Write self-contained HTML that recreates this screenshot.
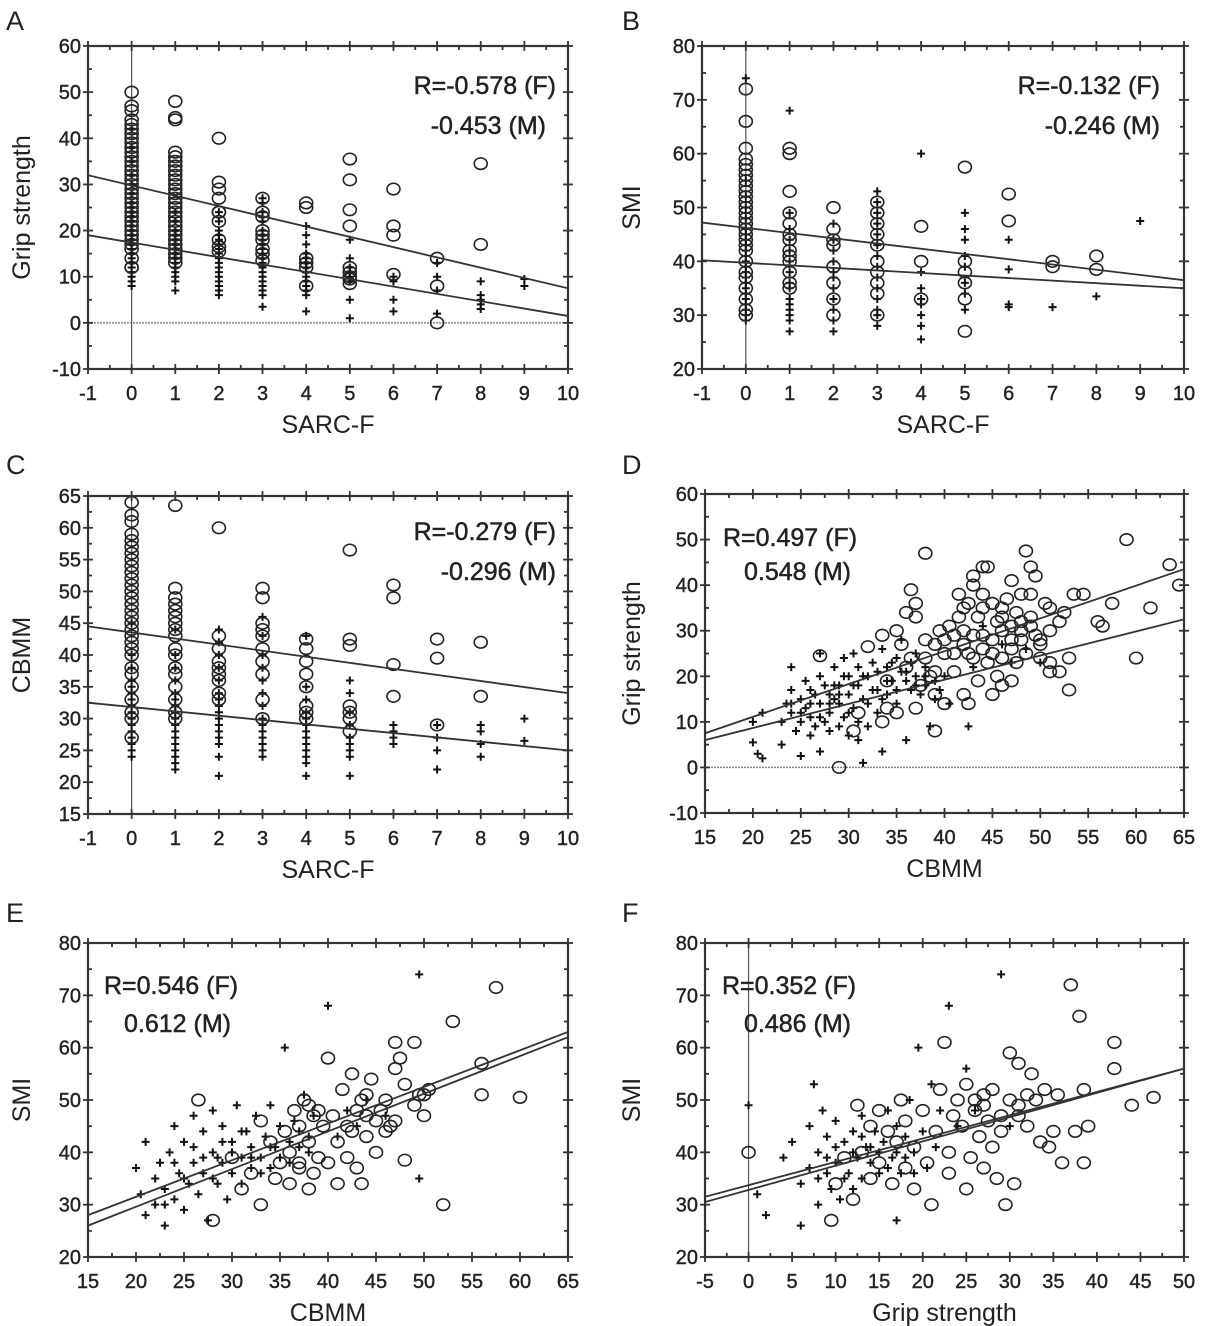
<!DOCTYPE html>
<html><head><meta charset="utf-8"><style>
html,body{margin:0;padding:0;background:#fff}
svg{display:block;font-family:"Liberation Sans",sans-serif}
</style></head><body>
<svg id="fig" width="1205" height="1326" viewBox="0 0 1205 1326" xmlns="http://www.w3.org/2000/svg"></svg>
<script>
// ---------- DATA ----------
const aMaleCols=[[0,[12,12,14,16,17,18,19,20,21,22,23,24,25,26,27,28,29,30,31,32,33,34,35,36,37,38,39,40,41,42,43,44,46,47,50]],[1,[13,14,15,16,17,18,19,20,21,22,23,24,25,26,27,28,29,30,31,32,33,34,35,36,37,44,44.5,48]],[2,[15.5,16.5,18,22,24,24,27,29,30.5,40]],[3,[13.5,15,16,18,19,20,23,24,27]],[4,[8,12,13,14,25,26]],[5,[8.5,9.5,10,11,12,21,24.5,31,35.5]],[6,[10.5,19,21,29]],[7,[0,8,14]],[8,[17,34.5]]];
const aFemCols=[[0,[8,9,10,11,12,13,14,15,16,17,18,19,20,21,22,23,24,25,26,28,30,32,35,38,42]],[1,[7,9,10,11,12,13,14,15,16,17,18,19,20,22,24]],[2,[6,7,8,9,10,11,12,13,14,15,16,17,18,19,20,22,24]],[3,[3.5,6,7,8,9,10,11,12,13,14,15,16,17,18,19,20,22,24,26,27]],[4,[2.5,6,7,8,9,10,11,12,13,14,15,17,19,21]],[5,[1,5,9,10,11,12,14,18]],[6,[2.5,5,9,10]],[7,[2,7,10,13]],[8,[3,4,5,6,9]],[9,[8,9.5]]];
const bMaleCols=[[0,[30,31,33,35,37,38,40,42,43,44,45,46,47,48,49,50,51,52,53,54,55,56,57,58,59,61,66,72]],[1,[35,36,38,40,41,42,44,45,47,49,53,60,61]],[2,[30,33,36,39,43,44,46,50]],[3,[30,34,36,38,40,43,45,47,49,51]],[4,[33,40,46.5]],[5,[27,33,36,38,40,57.5]],[6,[47.5,52.5]],[7,[39,40]],[8,[38.5,41]]];
const bFemCols=[[0,[29,30,31,32,33,34,35,36,37,38,39,40,41,42,43,44,45,46,48,50,52,55,74]],[1,[27,29,30,31,32,33,35,36,38,40,42,44,46,49,68]],[2,[27,29,31,33,35,37,38,40,42,44,47]],[3,[28,30,31,33,35,37,39,41,43,45,47,49,51,53]],[4,[25.5,28,30,32,33,35,38,60]],[5,[31,34,36,39,41,44,46,49]],[6,[31.5,32,38.5,44]],[7,[31.5]],[8,[33.5]],[9,[47.5]]];
const cMaleCols=[[0,[27,30,31,33,35,37,38,40,41,42,43,44,45,46,47,48,49,50,51,52,53,54,55,56,57,58,59,61,62,64]],[1,[30,31,33,35,37,38,40,41,43,44,45,46,47,48,49,50.5,63.5]],[2,[33,34,36,37,38,39,41,43,60]],[3,[30,33,37,39,41,43,44,45,49,50.5]],[4,[30,31,32,35,37,39,41,42.5]],[5,[28,30,31,32,41.5,42.5,56.5]],[6,[33.5,38.5,49,51]],[7,[29,39.5,42.5]],[8,[33.5,42]]];
const cFemCols=[[0,[24,25,26,27,28,29,30,31,32,33,34,35,36,38,40,45]],[1,[22,23,24,25,26,27,28,29,30,31,32,33,34,36,38,40,44]],[2,[21,24,26,27,28,29,30,31,32,33,34,36,38,40,42,44]],[3,[24,25,26,27,28,29,30,32,34,36,38,40,43,46]],[4,[21,23,24,25,26,27,28,29,30,31,33,35,43]],[5,[21,24,25,26,27,29,31,34,36]],[6,[26,27,28,29]],[7,[22,25,27,29]],[8,[24,26,28,29]],[9,[26.5,30]]];
const dMale=[[27,24.5],[29,0],[30.5,8],[31,12],[32,26.5],[33.5,29],[33.5,10],[34,13],[34,19],[35,30],[35,12],[35.5,27],[36,34],[36.5,39],[36.5,24],[37,36],[37,33],[37,13],[38,47],[38,28],[38.5,20],[39,16],[39,8],[39,21],[39.5,30],[40,14],[40,28],[40.5,31],[41,25],[41,21],[41.5,38],[41.5,33],[42,16],[42,30],[42,27],[42.5,14],[42.5,36],[43,40],[43,42],[43,24],[43.5,19],[43.5,33],[44,44],[44,38],[44,29],[44,26],[44.5,44],[44.5,23],[45,36],[45,25],[45,16],[45.5,20],[45.5,32],[46,35],[46,30],[46,18],[46.5,37],[47,41],[47,31],[47,26],[47,19],[47.5,34],[47.5,23],[48,38],[48,32],[48,28],[48.5,47.5],[48.5,25],[49,44],[49,33],[49,38],[49.5,42],[49.5,29],[50,27],[50,24],[50.5,36],[51,35],[51,30],[51,23],[51,21],[52,32],[52,21],[52.5,34],[53,24],[53,17],[53.5,38],[54.5,38],[56,32],[56.5,31],[57.5,36],[59,50],[60,24],[61.5,35],[63.5,44.5],[64.5,40],[36,22],[37.5,18],[38,24],[39,27],[40,25],[41,29],[42,35],[42.5,25],[43,29],[44,35],[45,28],[46,24],[46,33],[47,28],[48,30],[49,31],[50,28]];
const dFem=[[20,5.5],[20.5,3],[21,2],[20,10],[21,12],[23,5],[23,10],[23.5,14],[24,22],[24,17],[24,12],[24.5,8],[25,15],[25,10],[25,2.5],[25.5,19],[25.5,13],[26,7],[26,17],[26,11],[26.5,9],[27,20],[27,14],[27,3.5],[27,25],[27.5,10],[27.5,18],[28,16],[28,12],[28,8],[28.5,22],[28.5,15],[29,18],[29,14],[29,9],[29.5,24],[29.5,11],[30,20],[30,16],[30,7],[30.5,25],[30.5,13],[31,22],[31,18],[31,6],[31.5,1],[31.5,15],[32,20],[32,9],[32.5,23],[33,17],[33,12],[33.5,3.5],[33.5,26],[34,22],[34,16],[34.5,19],[35,24],[35,14],[35.5,28],[36,21],[36,6],[36.5,17],[37,25],[37,20],[37.5,16],[38,22],[38,18],[38.5,9],[39,15],[39.5,17],[40,20],[40.5,14],[42.5,9],[43,22],[44,31],[46,27],[47,23],[48.5,26],[50,23],[24,14],[25,12],[26,14],[26.5,16],[27,11],[28,14],[28.5,18],[29,16],[29.5,20],[30,12],[30.5,18],[31,10],[31.5,20],[32,14],[32.5,17],[33,21],[33.5,15],[34,19],[34.5,23],[35,17],[35.5,21],[36,19],[36.5,23],[37,18],[38,20],[39,19]];
const eMale=[[26.5,50],[28,27],[30,39],[31,33],[32,36],[33,30],[33,46],[34,42],[34.5,35],[35,38],[35.5,44],[36,40],[36,34],[36.5,48],[37,45],[37,37],[37.5,50],[38,33],[38,42],[38.5,36],[39,39],[39.5,45],[40,58],[40,38],[40.5,47],[41,42],[41,34],[41.5,52],[42,39],[42,45],[42.5,55],[43,37],[43,48],[43.5,34],[44,51],[44,43],[44.5,54],[45,46],[45,40],[45.5,48],[46,44],[46,50],[46.5,45],[47,61],[47,56],[47.5,58],[48,38.5],[48,53],[49,49],[49,61],[49.5,51],[50,47],[50,51],[52,30],[53,65],[56,57],[56,51],[57.5,71.5],[60,50.5],[37,38],[38,49],[38.5,47],[39,48],[42.5,44],[43.5,50],[44,47],[46.5,45],[47,46],[50.5,52]];
const eFem=[[20,37],[20.5,32],[21,28],[21,42],[22,35],[22,30],[22.5,38],[23,26],[23,33],[23.5,40],[24,31],[24,45],[24.5,36],[25,29],[25,42],[25.5,34],[26,38],[26,47],[26.5,32],[27,36],[27,44],[27.5,27],[28,40],[28,48],[28.5,34],[29,38],[29,45],[29.5,31],[30,42],[30,36],[30.5,49],[31,39],[31,34],[31.5,44],[32,41],[32,37],[32.5,47],[33,39],[33.5,43],[34,37],[34,49],[34.5,41],[35,45],[35.5,60],[36,42],[36,38],[36.5,46],[37,41],[37.5,51],[38,40],[38.5,47],[40,68],[41,43],[42,48],[43,45],[44,50],[49.5,74],[49.5,35],[46,47],[23,30],[24,38],[25,35],[26,41],[27,39],[28,35],[28.5,39],[29,42],[30,40],[31,44],[32,39],[33,36],[34,41],[35,39],[37,44],[38,43]];
const fMale=[[0,40],[9.5,27],[10,34],[11,39],[12,31],[12.5,49],[13,40],[14,45],[14,35],[15,48],[15,38],[16,44],[16.5,34],[17,42],[17.5,50],[18,37],[18,46],[19,33],[19,41],[20,48],[20.5,38],[21,30],[21.5,44],[22,52],[22.5,61],[23,40],[23,36],[24,50],[24.5,45],[25,33],[25,53],[25.5,39],[26,48],[26.5,43],[27,51],[27,37],[27.5,46],[28,41],[28.5,35],[29,44],[29.5,30],[30,50],[30,59],[30.5,34],[31,57],[31,47],[32,45],[32.5,55],[33,50],[33.5,42],[34,52],[34.5,41],[35,44],[35.5,51],[36,38],[37,72],[37.5,44],[38,66],[38.5,52],[38.5,38],[39,45],[42,61],[42,56],[44,49],[46.5,50.5],[23.5,47],[26,50],[27,49],[28,52],[29,47],[31,49],[32,51]];
const fFem=[[0,49],[1,32],[2,28],[4,39],[5,42],[6,26],[6,34],[7,37],[7,45],[7.5,53],[8,30],[8,40],[8.5,48],[9,36],[9,43],[9.5,33],[10,38],[10,46],[10.5,31],[11,42],[11.5,36],[12,44],[12,33],[12.5,39],[13,47],[13,35],[13.5,41],[14,38],[14.5,44],[15,36],[15.5,42],[16,48],[16.5,39],[17,27],[17,45],[17.5,36],[18,43],[18.5,50],[19,40],[19.5,60],[20,44],[20.5,37],[21,53],[21.5,41],[22,48],[23,68],[24,45],[25,56],[26,48],[29,74],[30,45],[8,35],[9,39],[10,41],[11,35],[12,40],[13,43],[14,41],[15,40],[16,37],[17,40],[18,39],[19,36]];
// regression line endpoints [x1,y1,x2,y2]
const aLines=[[-1,32,10,7.5],[-1,19,10,1.5]];
const bLines=[[-1,47.2,10,36.5],[-1,40.2,10,35]];
const cLines=[[-1,44.5,10,34],[-1,32.5,10,25]];
const dLines=[[15,7.5,65,43.5],[15,6,65,32.5]];
const eLines=[[15,28,65,63],[15,26,65,62]];
const fLines=[[-5,31.5,50,56],[-5,30.5,50,56]];
const sarcTicks=[-1,0,1,2,3,4,5,6,7,8,9,10];
const cbmmTicks=[15,20,25,30,35,40,45,50,55,60,65];
const gripXTicks=[-5,0,5,10,15,20,25,30,35,40,45,50];
const gripYTicks=[-10,0,10,20,30,40,50,60];
const smiTicks=[20,30,40,50,60,70,80];
const cbmmYTicks=[15,20,25,30,35,40,45,50,55,60,65];

// ---------- DRAW ----------
const NS="http://www.w3.org/2000/svg";
const svg=document.getElementById('fig');
function mk(tag,attrs,parent){const e=document.createElementNS(NS,tag);for(const k in attrs)e.setAttribute(k,attrs[k]);(parent||svg).appendChild(e);return e;}
function cols2pts(c){const p=[];c.forEach(([x,ys])=>ys.forEach(y=>p.push([x,y])));return p;}

function panel(cfg){
  const g=mk('g',{});
  
  
  const {L,R,T,B}=cfg;
  const xs=cfg.xt, ys=cfg.yt;
  const x0=xs[0],x1=xs[xs.length-1],y0=ys[0],y1=ys[ys.length-1];
  const X=v=>L+(v-x0)/(x1-x0)*(R-L);
  const Y=v=>B-(v-y0)/(y1-y0)*(B-T);
  const clip='clip'+cfg.id;
  const cp=mk('clipPath',{id:clip},g);mk('rect',{x:L,y:T,width:R-L,height:B-T},cp);
  if(cfg.zeroH){const l=mk('line',{x1:L,x2:R,y1:Y(0),y2:Y(0),stroke:'#888','stroke-width':1.5,'stroke-dasharray':'2,1'},g);}
  if(cfg.zeroV){const l=mk('line',{x1:X(0),x2:X(0),y1:T,y2:B,stroke:'#555','stroke-width':1.2},g);}
  const pg=mk('g',{'clip-path':'url(#'+clip+')'},g);
  cfg.fem.forEach(([a,b])=>{const cx=X(a),cy=Y(b);
    const p=mk('path',{d:`M${cx-4} ${cy}H${cx+4}M${cx} ${cy-4}V${cy+4}`,stroke:'#111','stroke-width':2},pg);
    });
  cfg.male.forEach(([a,b])=>{
    const c=mk('ellipse',{cx:X(a),cy:Y(b),rx:6.5,ry:5.8,fill:'none',stroke:'#222','stroke-width':1.6},pg);
    });
  cfg.lines.forEach(([a,b,c,d],i)=>{
    const l=mk('line',{x1:X(a),y1:Y(b),x2:X(c),y2:Y(d),stroke:'#333','stroke-width':1.8},pg);
    });
  const fr=mk('rect',{x:L,y:T,width:R-L,height:B-T,fill:'none',stroke:'#333','stroke-width':2.2},g);
  
  const tg=mk('g',{stroke:'#333','stroke-width':1.8},g);
  xs.forEach((v,i)=>{const x=X(v);
    mk('line',{x1:x,x2:x,y1:B-5,y2:B+5},tg);mk('line',{x1:x,x2:x,y1:T-5,y2:T+5},tg);
    if(i<xs.length-1){const m=X((v+xs[i+1])/2);mk('line',{x1:m,x2:m,y1:B-4,y2:B},tg);mk('line',{x1:m,x2:m,y1:T,y2:T+4},tg);}
    const t=mk('text',{x:x,y:B+31,'font-size':20,'text-anchor':'middle',fill:'#222',stroke:'#222','stroke-width':0.4},g);t.textContent=v;
    });
  ys.forEach((v,i)=>{const y=Y(v);
    mk('line',{x1:L-5,x2:L+5,y1:y,y2:y},tg);mk('line',{x1:R-5,x2:R+5,y1:y,y2:y},tg);
    if(i<ys.length-1){const m=Y((v+ys[i+1])/2);mk('line',{x1:L,x2:L+4,y1:m,y2:m},tg);mk('line',{x1:R-4,x2:R,y1:m,y2:m},tg);}
    const t=mk('text',{x:L-7,y:y+7,'font-size':20,'text-anchor':'end',fill:'#222',stroke:'#222','stroke-width':0.4},g);t.textContent=v;
    });
  const xt=mk('text',{x:(L+R)/2,y:B+64,'font-size':25,'text-anchor':'middle',fill:'#222'},g);xt.textContent=cfg.xl;
  
  const yx=cfg.ytx, yc=(T+B)/2;
  const yt=mk('text',{x:yx,y:yc,'font-size':25,'text-anchor':'middle',fill:'#222',transform:`rotate(-90 ${yx} ${yc})`},g);yt.textContent=cfg.yl;
  
  const pl=mk('text',{x:cfg.lx,y:cfg.ly,'font-size':27,fill:'#222'},g);pl.textContent=cfg.id;
  
  cfg.ann.forEach(([txt,x,y,anc])=>{const t=mk('text',{x:x,y:y,'font-size':25,'text-anchor':anc,fill:'#222',stroke:'#222','stroke-width':0.5},g);t.textContent=txt;
    });
}
const LA=88,RA=568,LB=702,RB=1184;
panel({id:'A',L:LA,R:RA,T:46,B:369,xt:sarcTicks,yt:gripYTicks,male:cols2pts(aMaleCols),fem:cols2pts(aFemCols),lines:aLines,zeroH:true,zeroV:true,xl:'SARC-F',yl:'Grip strength',ytx:30,lx:6,ly:30,ann:[['R=-0.578 (F)',556,94,'end'],['-0.453 (M)',546,134,'end']]});
panel({id:'B',L:LB,R:RB,T:46,B:369,xt:sarcTicks,yt:smiTicks,male:cols2pts(bMaleCols),fem:cols2pts(bFemCols),lines:bLines,zeroV:true,xl:'SARC-F',yl:'SMI',ytx:640,lx:622,ly:30,ann:[['R=-0.132 (F)',1160,94,'end'],['-0.246 (M)',1160,134,'end']]});
panel({id:'C',L:LA,R:RA,T:496,B:814,xt:sarcTicks,yt:cbmmYTicks,male:cols2pts(cMaleCols),fem:cols2pts(cFemCols),lines:cLines,zeroV:true,xl:'SARC-F',yl:'CBMM',ytx:30,lx:6,ly:474,ann:[['R=-0.279 (F)',556,540,'end'],['-0.296 (M)',556,580,'end']]});
panel({id:'D',L:LB+3,R:RB,T:494,B:813,xt:cbmmTicks,yt:gripYTicks,male:dMale,fem:dFem,lines:dLines,zeroH:true,xl:'CBMM',yl:'Grip strength',ytx:640,lx:622,ly:474,ann:[['R=0.497 (F)',723,546,'start'],['0.548 (M)',744,580,'start']]});
panel({id:'E',L:LA,R:RA,T:943,B:1257,xt:cbmmTicks,yt:smiTicks,male:eMale,fem:eFem,lines:eLines,xl:'CBMM',yl:'SMI',ytx:30,lx:6,ly:922,ann:[['R=0.546 (F)',104,994,'start'],['0.612 (M)',124,1032,'start']]});
panel({id:'F',L:LB+3,R:RB,T:943,B:1257,xt:gripXTicks,yt:smiTicks,male:fMale,fem:fFem,lines:fLines,zeroV:true,xl:'Grip strength',yl:'SMI',ytx:640,lx:622,ly:922,ann:[['R=0.352 (F)',722,994,'start'],['0.486 (M)',744,1032,'start']]});
</script>
</body></html>
